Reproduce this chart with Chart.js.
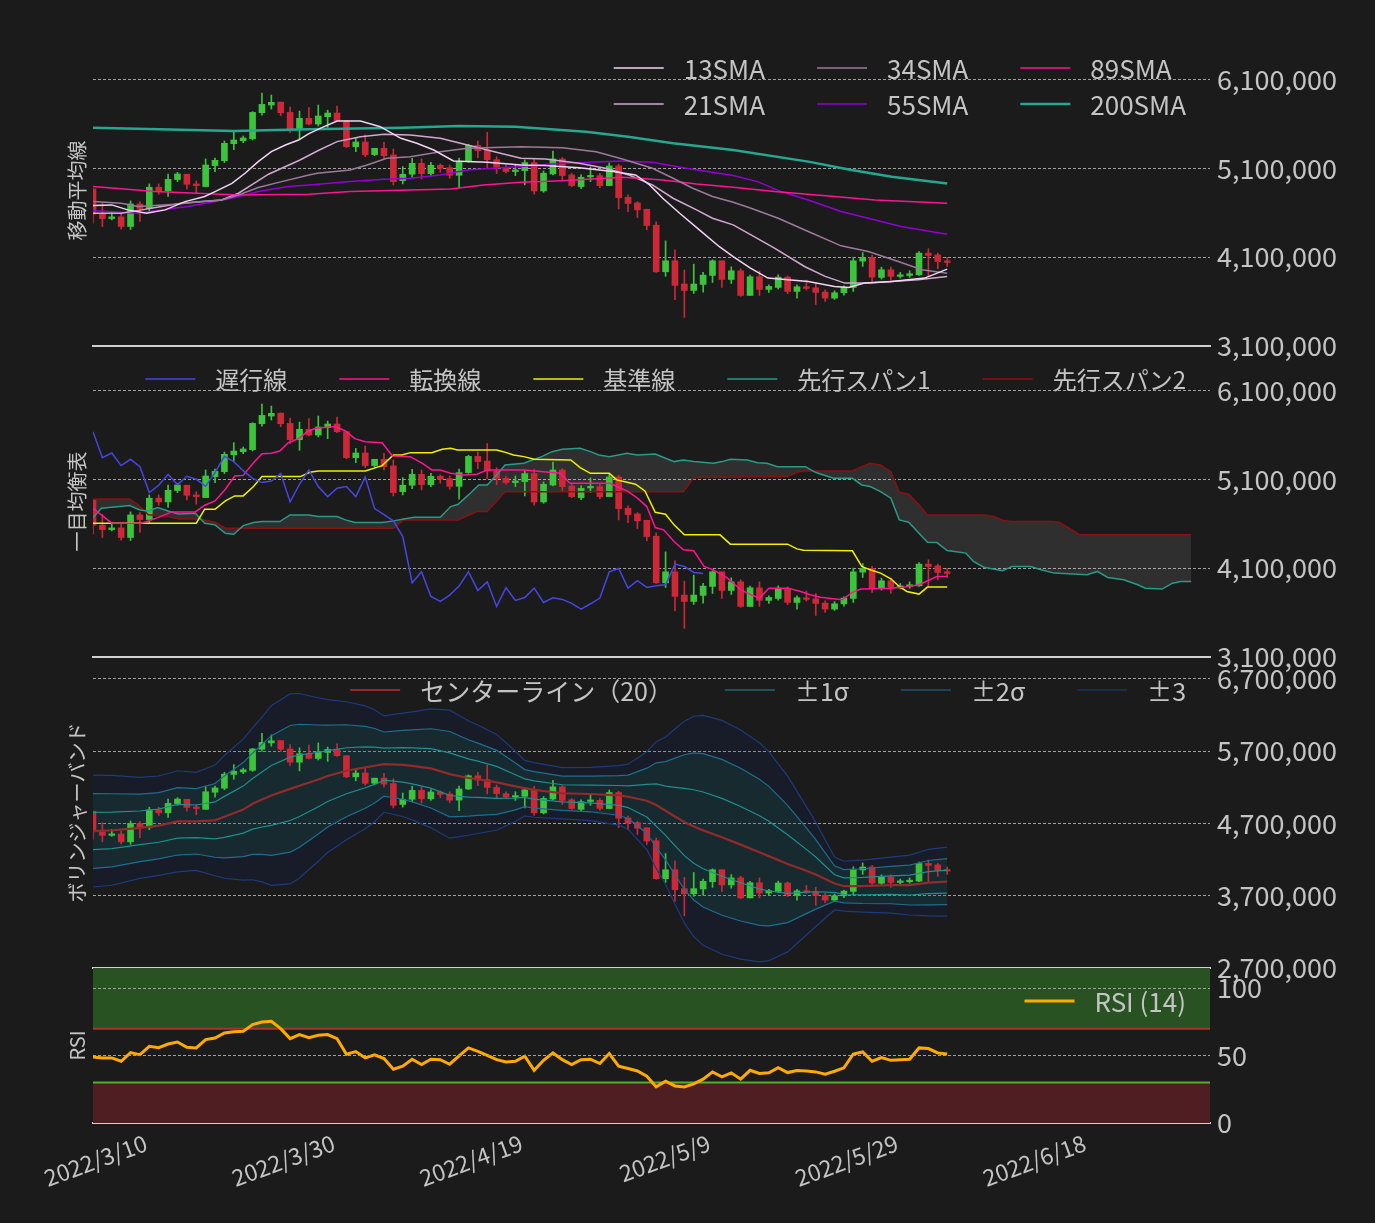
<!DOCTYPE html>
<html>
<head>
<meta charset="utf-8">
<script src="https://cdn.jsdelivr.net/npm/chart.js@4.4.0/dist/chart.umd.min.js"></script>
<style>
  html, body { margin: 0; padding: 0; background: #1b1b1b; }
  #wrap { position: relative; width: 1375px; height: 1223px; }
  #wrap canvas { position: absolute; left: 0; top: 0; }
</style>
</head>
<body>
<div id="wrap">
  <canvas id="maChart" width="1375" height="1223"></canvas>
  <canvas id="ichiChart" width="1375" height="1223"></canvas>
  <canvas id="bbChart" width="1375" height="1223"></canvas>
  <canvas id="rsiChart" width="1375" height="1223"></canvas>
</div>
<script>
// x axis: days since 2022/3/10
const xTickDays = [0, 20, 40, 60, 80, 100];
const xTickLabels = ['2022/3/10', '2022/3/30', '2022/4/19', '2022/5/9', '2022/5/29', '2022/6/18'];
const priceTicks = [3100000, 4100000, 5100000, 6100000];
const bbTicks = [2700000, 3700000, 4700000, 5700000, 6700000];
const rsiTicks = [0, 50, 100];

// daily OHLC, millions of yen
const opens = [4.868,4.583,4.534,4.553,4.445,4.699,4.647,4.887,4.845,4.973,
  5.033,4.924,4.894,5.130,5.186,5.377,5.411,5.433,5.725,5.812,
  5.845,5.729,5.546,5.662,5.598,5.681,5.722,5.636,5.343,5.396,
  5.254,5.325,5.250,4.961,5.033,5.156,5.040,5.134,5.107,5.021,
  5.175,5.358,5.306,5.197,5.111,5.063,5.074,5.164,4.845,5.036,
  5.205,5.025,4.894,5.003,5.018,4.905,5.126,4.774,4.710,4.639,
  4.460,3.935,4.059,3.797,3.725,3.793,3.894,4.059,3.849,3.946,
  3.669,3.879,3.737,3.759,3.875,3.714,3.767,3.755,3.707,3.639,
  3.699,3.759,4.055,4.096,3.872,3.958,3.883,3.894,3.901,4.145,
  4.126,4.059];
const highs = [4.868,4.707,4.617,4.594,4.733,4.725,4.924,4.924,5.036,5.055,
  5.033,4.958,5.205,5.216,5.407,5.512,5.463,5.737,5.946,5.924,
  5.845,5.789,5.744,5.782,5.812,5.755,5.800,5.636,5.448,5.475,
  5.325,5.392,5.317,5.119,5.212,5.205,5.167,5.149,5.137,5.216,
  5.370,5.407,5.504,5.231,5.137,5.137,5.194,5.212,5.070,5.295,
  5.220,5.044,5.025,5.115,5.044,5.160,5.145,4.800,4.725,4.639,
  4.497,4.283,4.182,3.954,4.021,3.928,4.070,4.059,3.991,3.969,
  3.898,3.946,3.789,3.901,3.890,3.789,3.842,3.815,3.733,3.722,
  3.778,4.100,4.152,4.119,3.988,3.988,3.928,3.946,4.164,4.194,
  4.145,4.096];
const lows = [4.482,4.445,4.519,4.415,4.411,4.501,4.613,4.808,4.782,4.950,
  4.868,4.819,4.894,5.063,5.164,5.310,5.388,5.418,5.699,5.767,
  5.692,5.501,5.426,5.587,5.576,5.557,5.624,5.332,5.287,5.231,
  5.242,5.205,4.913,4.924,4.995,4.980,5.018,5.055,4.988,4.875,
  5.167,5.220,5.107,5.040,5.044,5.018,4.913,4.808,4.830,5.025,
  4.958,4.894,4.872,4.950,4.883,4.905,4.643,4.613,4.546,4.407,
  3.928,3.883,3.621,3.422,3.692,3.707,3.815,3.759,3.804,3.658,
  3.669,3.669,3.703,3.740,3.688,3.639,3.729,3.568,3.602,3.624,
  3.673,3.714,3.995,3.827,3.853,3.815,3.864,3.872,3.894,3.883,
  3.969,3.995];
const closes = [4.583,4.534,4.553,4.445,4.699,4.647,4.887,4.845,4.976,5.036,
  4.920,4.905,5.137,5.190,5.381,5.418,5.441,5.729,5.819,5.842,
  5.725,5.546,5.662,5.598,5.688,5.722,5.636,5.343,5.396,5.254,
  5.325,5.242,4.950,5.033,5.156,5.040,5.134,5.100,5.021,5.175,
  5.358,5.299,5.197,5.111,5.063,5.081,5.164,4.845,5.044,5.205,
  5.018,4.905,4.999,5.018,4.905,5.126,4.770,4.703,4.632,4.456,
  3.935,4.059,3.782,3.725,3.797,3.898,4.059,3.849,3.946,3.669,
  3.879,3.737,3.770,3.875,3.714,3.767,3.748,3.703,3.639,3.699,
  3.763,4.059,4.096,3.875,3.958,3.883,3.901,3.913,4.145,4.119,
  4.051,4.040];

// moving averages [day, millions]
const sma13 = [[0,4.681],[2,4.688],[3.7,4.632],[5.7,4.594],[7.7,4.632],[9.8,4.725],[11.9,4.782],[13,4.838],[14.8,4.931],[16.2,5.044],[17.6,5.175],[19,5.287],[20.5,5.362],[21.9,5.418],[23,5.49],[24.2,5.549],[26,5.632],[28.5,5.632],[30.6,5.568],[32.8,5.437],[34.5,5.381],[36.3,5.306],[38.4,5.182],[42,5.167],[45.6,5.137],[48.2,5.130],[51.8,5.107],[55.4,5.063],[57.8,5.025],[59.3,4.913],[60.7,4.763],[62.5,4.594],[64.6,4.407],[66.7,4.220],[68.2,4.107],[70,3.98],[71.9,3.864],[76.2,3.827],[79,3.770],[80.5,3.759],[82.2,3.808],[85.1,3.827],[88.6,3.864],[91,3.965]];
const sma21 = [[0,4.594],[3,4.594],[5.2,4.632],[7.3,4.669],[9.4,4.707],[11.6,4.725],[13.7,4.744],[15.5,4.819],[16.9,4.913],[18.7,5.033],[20.1,5.100],[22,5.19],[24,5.30],[26,5.40],[28.5,5.455],[31,5.482],[33.8,5.475],[37,5.437],[39.9,5.362],[43.4,5.269],[45.6,5.212],[48.2,5.205],[51.8,5.156],[54.6,5.100],[57.1,5.025],[59.6,4.913],[61.8,4.763],[64.3,4.632],[66,4.538],[68.2,4.463],[70.1,4.351],[72.6,4.201],[75.8,3.995],[78,3.883],[80.1,3.808],[82.6,3.808],[85.1,3.827],[87.9,3.845],[91,3.883]];
const sma34 = [[0,4.725],[3,4.707],[4.8,4.669],[6.6,4.681],[8.7,4.696],[10.9,4.718],[13.7,4.744],[15.5,4.800],[17.6,4.883],[20.1,4.950],[23,5.025],[23.9,5.044],[27.4,5.081],[29.2,5.137],[31.3,5.212],[33.8,5.231],[37,5.287],[39.9,5.325],[45.6,5.343],[50,5.332],[53.6,5.287],[56.4,5.205],[59.6,5.100],[61.8,4.988],[63.9,4.875],[66,4.782],[68.2,4.718],[70.1,4.651],[73,4.538],[76.2,4.388],[79.7,4.227],[82.6,4.164],[85.8,4.051],[88.3,3.958],[91,3.920]];
const sma55 = [[0,4.621],[3,4.606],[4.8,4.594],[7.3,4.632],[10.1,4.669],[13,4.725],[15.1,4.770],[17.6,4.838],[20.8,4.894],[23,4.913],[27.4,4.950],[31,4.976],[33.8,4.988],[37,5.025],[39.9,5.081],[43.4,5.107],[45.6,5.119],[50,5.156],[56.4,5.182],[59.6,5.167],[63.2,5.100],[68.2,5.018],[70.8,4.950],[73.3,4.838],[76.2,4.744],[79.7,4.613],[82.6,4.538],[86.1,4.445],[91,4.358]];
const sma89 = [[0,4.894],[6.6,4.838],[15.5,4.800],[23,4.808],[27.4,4.838],[33.8,4.857],[38.1,4.868],[41.6,4.913],[45.6,4.943],[50,4.961],[56.4,4.999],[60.7,4.969],[64.3,4.924],[68.2,4.887],[72.6,4.838],[79,4.782],[83.3,4.744],[91,4.707]];
const sma200 = [[0,5.557],[7,5.538],[15,5.519],[23,5.538],[33,5.557],[39,5.576],[45,5.568],[52.5,5.512],[57,5.456],[61.8,5.381],[68.2,5.306],[76.2,5.175],[80.8,5.081],[85.1,5.006],[91,4.928]];

// ichimoku [day, millions]
const chikouShift = 26;
const tenkan = [[0,4.774],[2,4.606],[5.2,4.606],[6.9,4.669],[8.4,4.733],[10.9,4.733],[11.9,4.808],[13,4.857],[14.1,4.988],[15.1,5.137],[16,5.144],[17.1,5.287],[18,5.388],[19,5.392],[19.9,5.418],[20.8,5.512],[21.9,5.557],[22.8,5.632],[23.7,5.674],[25.8,5.693],[26.9,5.644],[27.9,5.557],[29,5.523],[30.8,5.512],[31.9,5.362],[33.8,5.355],[35.1,5.280],[36.1,5.205],[37,5.205],[38.1,5.167],[39.5,5.149],[40.9,5.156],[42,5.205],[45.9,5.205],[49.8,5.167],[50.8,5.055],[55.1,5.055],[56.2,4.999],[56.9,4.969],[58,4.887],[59,4.793],[59.9,4.557],[60.8,4.531],[61.9,4.400],[62.9,4.306],[64,4.295],[65.1,4.119],[66.1,4.081],[67.6,3.988],[69,3.857],[70.1,3.800],[71,3.763],[72,3.875],[74,3.875],[75.4,3.838],[76.4,3.800],[77.5,3.772],[79.8,3.744],[80.9,3.827],[81.8,3.864],[85,3.875],[86.7,3.890],[88,3.913],[89.9,4.006],[91,4.006]];
const kijun = [[0,4.606],[11,4.606],[11.9,4.763],[13,4.763],[14.1,4.857],[15.1,4.913],[16,4.913],[17.1,5.018],[18,5.130],[22.1,5.130],[23.1,5.179],[24,5.194],[29,5.194],[30.8,5.254],[32,5.373],[32.9,5.373],[33.8,5.400],[36.1,5.400],[37.2,5.437],[38.1,5.448],[38.8,5.430],[43,5.430],[43.7,5.411],[44.8,5.373],[45.9,5.355],[47,5.325],[50.9,5.317],[51.9,5.231],[53,5.167],[55,5.167],[55.8,5.093],[56.9,5.066],[57.8,5.044],[58.8,4.969],[59.9,4.729],[61,4.707],[61.9,4.587],[63,4.475],[66.8,4.475],[67.9,4.370],[74,4.370],[75,4.317],[75.7,4.302],[80.9,4.295],[81.9,4.119],[82.8,4.081],[83.9,4.044],[85,3.980],[85.9,3.894],[86.7,3.838],[88,3.808],[88.9,3.887],[91,3.887]];
const senkou1 = [[0,4.669],[0.9,4.774],[2,4.785],[3.9,4.804],[5,4.755],[5.9,4.744],[6.9,4.782],[8,4.744],[9.1,4.710],[10.9,4.718],[11.9,4.606],[13,4.587],[14.1,4.493],[15,4.482],[16,4.579],[17.1,4.613],[18,4.624],[19.9,4.624],[21,4.699],[23,4.699],[24,4.681],[26,4.681],[26.9,4.643],[27.9,4.613],[30.8,4.613],[32,4.632],[33.1,4.654],[34.2,4.673],[37,4.673],[38.1,4.793],[38.9,4.819],[40,4.924],[41.1,5.036],[42,5.036],[43,5.149],[43.9,5.261],[45.9,5.280],[46.8,5.317],[47.8,5.355],[48.9,5.411],[50,5.437],[51.9,5.448],[53,5.411],[53.9,5.373],[55,5.355],[56.9,5.392],[58,5.373],[59.9,5.385],[61,5.336],[61.9,5.299],[62.9,5.317],[64,5.299],[66.1,5.280],[67,5.299],[67.9,5.325],[69.7,5.317],[70.8,5.287],[71.8,5.280],[72.9,5.242],[75.9,5.242],[76.8,5.186],[77.5,5.160],[78.9,5.111],[80.9,5.111],[81.9,5.036],[82.8,5.018],[83.9,4.961],[85,4.887],[85.9,4.643],[86.9,4.617],[88,4.493],[88.9,4.392],[89.9,4.388],[91,4.298],[93,4.269],[93.8,4.175],[94.9,4.111],[96.9,4.070],[97.9,4.119],[99.9,4.119],[101,4.081],[102.4,4.044],[105.9,4.025],[107,4.063],[108.1,3.995],[109.8,3.969],[111.3,3.913],[112.1,3.875],[113.9,3.864],[115,3.931],[115.9,3.950],[117,3.950]];
const senkou2 = [[0,4.879],[3.9,4.879],[4.8,4.812],[5.9,4.700],[8,4.681],[9.1,4.654],[10.9,4.654],[11.9,4.643],[13,4.617],[14.1,4.549],[32,4.549],[33.1,4.643],[38.9,4.643],[40.9,4.737],[42,4.737],[43.9,4.961],[62.9,4.961],[64,5.119],[74,5.130],[75,5.179],[75.7,5.194],[80.9,5.194],[81.9,5.242],[82.8,5.280],[83.9,5.261],[85,5.186],[85.9,4.954],[86.9,4.931],[88,4.812],[88.9,4.699],[94.9,4.699],[96,4.681],[97.1,4.632],[97.9,4.624],[102,4.624],[102.9,4.617],[104,4.549],[105.1,4.475],[117,4.475]];

// bollinger (20): centre and sigma, millions
const bbDays = [0,2,5,7,9,11,13,14,16,17,18,19,21,22,24,25,27,29,30,31,33,34,36,38,40,41,43,45,46,47,50,53,56,57,59,60,61,62,63,64,65,67,69,71,72,74,76,77,79,80,82,85,87,89,91];
const bbMid = [4.594,4.603,4.638,4.668,4.728,4.728,4.741,4.790,4.890,4.970,
  5.030,5.085,5.177,5.220,5.306,5.354,5.427,5.475,5.496,5.519,
  5.509,5.495,5.460,5.380,5.327,5.310,5.267,5.211,5.187,5.162,
  5.116,5.106,5.086,5.068,5.013,4.953,4.874,4.795,4.718,4.657,
  4.603,4.507,4.406,4.299,4.247,4.138,4.044,3.994,3.868,3.831,
  3.832,3.846,3.847,3.880,3.893];
const bbSigma = [0.258,0.253,0.233,0.229,0.233,0.226,0.255,0.283,0.325,0.350,
  0.380,0.414,0.438,0.425,0.377,0.352,0.318,0.283,0.258,0.222,
  0.238,0.249,0.274,0.295,0.264,0.250,0.221,0.162,0.128,0.126,
  0.118,0.123,0.137,0.150,0.225,0.292,0.340,0.403,0.465,0.508,
  0.530,0.539,0.528,0.505,0.482,0.405,0.296,0.240,0.122,0.115,
  0.120,0.129,0.138,0.153,0.159];

// RSI(14), daily
const rsi = [49.0,48.3,48.3,45.8,52.2,50.7,56.9,55.9,58.6,60.1,
  56.2,55.7,61.9,63.1,66.8,67.7,68.0,73.0,74.9,75.4,
  70.0,62.6,65.6,63.3,65.1,65.6,62.6,51.0,53.0,48.3,
  50.5,47.8,39.9,42.1,47.3,43.3,47.3,47.0,43.6,49.8,
  55.7,53.2,50.2,47.0,45.3,45.8,49.5,39.1,46.5,52.0,
  47.0,43.3,47.0,47.3,44.1,51.5,42.1,40.4,38.6,34.7,
  26.8,31.0,27.5,26.8,29.0,32.5,37.9,34.2,37.2,32.5,
  39.1,36.7,37.2,41.1,37.4,38.9,38.6,37.9,36.2,38.4,
  40.9,51.2,52.7,45.8,48.5,46.5,47.0,47.3,55.7,55.2,
  52.0,51.2];
const rsiHigh = 70;
const rsiLow = 30;

const FONT = "'Noto Sans CJK JP', 'Noto Sans', sans-serif";
const TEXT = '#c4c4c4';
const GRID = '#a0a0a0';
const AXIS = '#d0d0d0';
const UP = '#3cc43c';
const DOWN = '#cc2838';
const XMAX = 119;
const H = 1223;

Chart.defaults.font.family = FONT;
Chart.defaults.color = TEXT;

const yen = v => Math.round(v * 1e6);
const pts = arr => arr.map(([d, v]) => ({x: d, y: yen(v)}));
const days = closes.map((_, i) => i);

function candles() {
  const col = days.map(i => closes[i] >= opens[i] ? UP : DOWN);
  return [
    {type: 'bar', label: '_wick', data: days.map(i => ({x: i, y: [yen(lows[i]), yen(highs[i])]})),
      backgroundColor: col, barThickness: 1, grouped: false, order: 10},
    {type: 'bar', label: '_body', data: days.map(i => ({x: i, y: [yen(opens[i]), yen(closes[i])]})),
      backgroundColor: col, barThickness: 6, minBarLength: 1.5, grouped: false, order: 9}
  ];
}

function line(label, data, color, width, extra) {
  return Object.assign({type: 'line', label, data, borderColor: color, backgroundColor: color,
    borderWidth: width, pointRadius: 0, tension: 0, fill: false, order: 0}, extra || {});
}

// side title + legend inside the plot, right aligned like the original
const panelDeco = {
  id: 'panelDeco',
  afterDraw(chart, args, o) {
    const {ctx, chartArea: a} = chart;
    ctx.save();
    ctx.fillStyle = TEXT;
    ctx.font = `20px ${FONT}`;
    ctx.textAlign = 'center';
    ctx.textBaseline = 'middle';
    ctx.translate(77, (a.top + a.bottom) / 2);
    ctx.rotate(-Math.PI / 2);
    ctx.fillText(o.title, 0, 0);
    ctx.restore();

    const sets = o.legend.map(l => chart.data.datasets.find(d => d.label === l));
    const cols = o.cols || sets.length;
    const rows = Math.ceil(sets.length / cols);
    ctx.save();
    ctx.font = `${o.size}px ${FONT}`;
    const widths = [];
    for (let c = 0; c < cols; c++) {
      let w = 0;
      for (let r = 0; r < rows; r++) {
        const d = sets[r * cols + c];
        if (d) w = Math.max(w, ctx.measureText(d.label).width);
      }
      widths.push(w);
    }
    const total = widths.reduce((s, w) => s + 70 + w, 0) + 52 * (cols - 1);
    let x = a.right - 24 - total;
    widths.forEach((w, c) => {
      for (let r = 0; r < rows; r++) {
        const d = sets[r * cols + c];
        if (!d) continue;
        const y = a.top + 33 + r * 36;
        ctx.strokeStyle = d.borderColor;
        ctx.lineWidth = d.borderWidth;
        ctx.beginPath(); ctx.moveTo(x, y); ctx.lineTo(x + 50, y); ctx.stroke();
        ctx.fillStyle = TEXT;
        ctx.textAlign = 'left';
        ctx.textBaseline = 'middle';
        ctx.fillText(d.label, x + 70, y + 1);
      }
      x += 70 + w + 52;
    });
    ctx.restore();
  }
};

function panel(id, top, bottom, y, datasets, deco, showX) {
  return new Chart(document.getElementById(id), {
    type: 'line',
    data: {datasets},
    options: {
      responsive: false,
      animation: false,
      events: [],
      layout: {padding: {left: 93, top: top, right: 0, bottom: 0}},
      plugins: {
        legend: {display: false},
        tooltip: {enabled: false},
        filler: {drawTime: 'beforeDatasetsDraw'},
        panelDeco: deco
      },
      scales: {
        x: {
          type: 'linear', min: 0, max: XMAX, offset: false,
          afterFit: s => { s.height = H - bottom; s.paddingLeft = 0; s.paddingRight = 0; },
          afterBuildTicks: s => { s.ticks = xTickDays.map(v => ({value: v})); },
          grid: {display: false, drawTicks: false},
          border: {display: true, color: AXIS, width: 2},
          ticks: {
            display: showX, autoSkip: false, minRotation: 20, maxRotation: 20,
            color: TEXT, font: {size: 23}, padding: 6, labelOffset: 53,
            callback: v => xTickLabels[xTickDays.indexOf(v)]
          }
        },
        y: {
          type: 'linear', position: 'right', min: y.min, max: y.max,
          afterFit: s => { s.width = 165; },
          afterBuildTicks: s => { s.ticks = y.ticks.map(v => ({value: v})); },
          grid: {drawTicks: false, z: y.gridZ || -1, lineWidth: 1,
            color: c => (c.tick && c.tick.value === y.min) ? 'rgba(0,0,0,0)' : GRID},
          border: {display: false, dash: [3, 2]},
          ticks: {color: TEXT, font: {size: 27}, padding: 7,
            callback: v => v.toLocaleString('en-US')}
        }
      }
    },
    plugins: [panelDeco]
  });
}

// panel 1: moving averages
panel('maChart', 35, 346, {min: 3100000, max: 6600000, ticks: priceTicks}, [
  line('13SMA', pts(sma13), '#f4d4f4', 1.5),
  line('34SMA', pts(sma34), '#9c7a9c', 1.5),
  line('89SMA', pts(sma89), '#ff1493', 1.5),
  line('21SMA', pts(sma21), '#d2a8d2', 1.5),
  line('55SMA', pts(sma55), '#9400d3', 1.5),
  line('200SMA', pts(sma200), '#24a890', 2.5),
  ...candles()
], {title: '移動平均線', size: 26, legend: ['13SMA', '34SMA', '89SMA', '21SMA', '55SMA', '200SMA'], cols: 3}, false);

// panel 2: ichimoku
const chikou = closes.slice(chikouShift).map((c, i) => ({x: i, y: yen(c)}));
panel('ichiChart', 346, 657, {min: 3100000, max: 6600000, ticks: priceTicks}, [
  line('遅行線', chikou, '#4646e6', 1.5),
  line('転換線', pts(tenkan), '#ff1493', 1.5),
  line('基準線', pts(kijun), '#f0f000', 1.5),
  line('先行スパン1', pts(senkou1), '#2a9a88', 1.5, {fill: '+1', backgroundColor: 'rgba(255,255,255,0.09)'}),
  line('先行スパン2', pts(senkou2), '#8b1010', 1.5),
  ...candles()
], {title: '一目均衡表', size: 24, legend: ['遅行線', '転換線', '基準線', '先行スパン1', '先行スパン2']}, false);

// panel 3: bollinger bands
const band = k => bbDays.map((d, i) => ({x: d, y: yen(bbMid[i] + k * bbSigma[i])}));
panel('bbChart', 657, 968, {min: 2700000, max: 7000000, ticks: bbTicks}, [
  line('±2σ', band(2), '#1f6e90', 1.2, {fill: '+1', backgroundColor: 'rgba(20,140,110,0.12)'}),
  line('_lower2', band(-2), '#1f6e90', 1.2),
  line('±3', band(3), '#1c3c7c', 1.2, {fill: '+1', backgroundColor: 'rgba(10,40,120,0.15)'}),
  line('_lower3', band(-3), '#1c3c7c', 1.2),
  line('±1σ', band(1), '#1f8f8f', 1.2),
  line('_lower1', band(-1), '#1f8f8f', 1.2),
  line('センターライン（20）', pts(bbDays.map((d, i) => [d, bbMid[i]])), '#932b2b', 2.2),
  ...candles()
], {title: 'ボリンジャーバンド', size: 25, legend: ['センターライン（20）', '±1σ', '±2σ', '±3']}, false);

// panel 4: RSI
panel('rsiChart', 968, 1123, {min: 0, max: 115, ticks: rsiTicks, gridZ: 1}, [
  line('RSI (14)', rsi.map((v, i) => ({x: i, y: v})), '#ffaa00', 3),
  line('_ob', [{x: 0, y: rsiHigh}, {x: XMAX, y: rsiHigh}], '#b0322c', 2,
    {fill: 'end', backgroundColor: '#285222', order: 1}),
  line('_os', [{x: 0, y: rsiLow}, {x: XMAX, y: rsiLow}], '#52b030', 2,
    {fill: 'start', backgroundColor: '#4e1e22', order: 1})
], {title: 'RSI', size: 26, legend: ['RSI (14)']}, true);
</script>
</body>
</html>
